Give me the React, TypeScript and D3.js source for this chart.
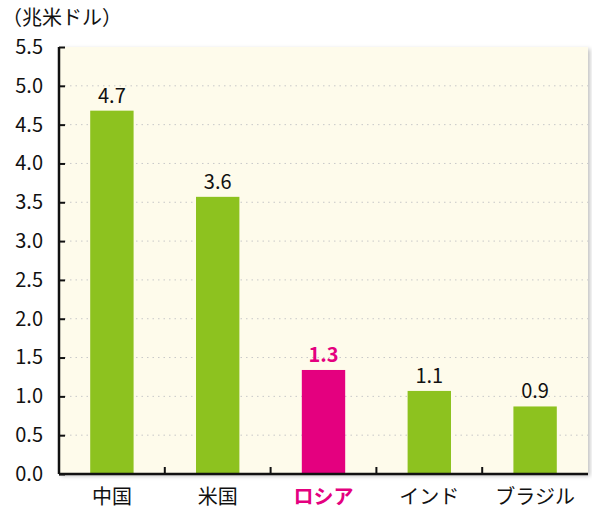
import { useEffect, useRef } from 'react'
import * as d3 from 'd3'

const countries = ['中国', '米国', 'ロシア', 'インド', 'ブラジル']
const values = [4.68, 3.57, 1.34, 1.07, 0.87]
const highlight = 'ロシア'
const yTicks = [0, 0.5, 1, 1.5, 2, 2.5, 3, 3.5, 4, 4.5, 5, 5.5]
const unitLabel = '（兆米ドル）'

const GREEN = '#8dc21f'
const PINK = '#e4007f'
const FONT = '"Noto Sans CJK JP", "Noto Sans", sans-serif'

export default function App() {
  const svgRef = useRef<SVGSVGElement>(null)

  useEffect(() => {
    if (!svgRef.current) return
    const svg = d3.select(svgRef.current)
    svg.selectAll('*').remove()

    const width = 592
    const height = 509
    const margin = { top: 47, right: 4, bottom: 35, left: 59 }
    const innerW = width - margin.left - margin.right
    const innerH = height - margin.top - margin.bottom

    const x = d3.scaleBand().domain(countries).range([0, innerW]).paddingInner(0.59).paddingOuter(0.295)
    const y = d3.scaleLinear().domain([0, 5.5]).range([innerH, 0])

    const defs = svg.append('defs')
    const filter = defs.append('filter').attr('id', 'shadow').attr('x', '-5%').attr('y', '-5%').attr('width', '115%').attr('height', '115%')
    filter.append('feDropShadow').attr('dx', 2).attr('dy', 2).attr('stdDeviation', 2).attr('flood-color', '#000').attr('flood-opacity', 0.25)

    const g = svg.append('g').attr('transform', `translate(${margin.left},${margin.top})`)

    // plot background
    g.append('rect')
      .attr('width', innerW)
      .attr('height', innerH)
      .attr('fill', '#fefbeb')
      .attr('filter', 'url(#shadow)')

    // dotted gridlines
    g.append('g')
      .selectAll('line')
      .data(yTicks.filter((t) => t > 0 && t < 5.5))
      .join('line')
      .attr('x1', 0)
      .attr('x2', innerW)
      .attr('y1', (d) => y(d))
      .attr('y2', (d) => y(d))
      .attr('stroke', '#c8c8c8')
      .attr('stroke-width', 1)
      .attr('stroke-dasharray', '1.5,4')

    // bars
    g.append('g')
      .selectAll('rect')
      .data(countries)
      .join('rect')
      .attr('x', (d) => x(d)!)
      .attr('y', (d, i) => y(values[i]))
      .attr('width', x.bandwidth())
      .attr('height', (d, i) => innerH - y(values[i]))
      .attr('fill', (d) => (d === highlight ? PINK : GREEN))

    // value labels
    g.append('g')
      .selectAll('text')
      .data(countries)
      .join('text')
      .attr('x', (d) => x(d)! + x.bandwidth() / 2)
      .attr('y', (d, i) => y(values[i]) - 8)
      .attr('text-anchor', 'middle')
      .attr('font-family', FONT)
      .attr('font-size', 20)
      .attr('font-weight', (d) => (d === highlight ? 'bold' : 'normal'))
      .attr('fill', (d) => (d === highlight ? PINK : '#111'))
      .text((d, i) => values[i].toFixed(1))

    // y axis
    const yAxis = g.append('g').call(
      d3.axisLeft(y).tickValues(yTicks).tickSize(-6).tickPadding(16).tickFormat((d) => (d as number).toFixed(1))
    )
    yAxis.select('.domain').attr('stroke', '#111').attr('stroke-width', 2.5).attr('d', `M0,0V${innerH}`)
    yAxis.selectAll('.tick line').attr('stroke', '#111').attr('stroke-width', 2)
    yAxis.selectAll('.tick text').attr('font-family', FONT).attr('font-size', 20).attr('fill', '#111')

    // x axis with ticks between categories
    const xAxis = g.append('g').attr('transform', `translate(0,${innerH})`)
    xAxis.append('line').attr('x1', 0).attr('x2', innerW).attr('stroke', '#111').attr('stroke-width', 2.5)
    const step = x.step()
    xAxis
      .selectAll('line.sep')
      .data(countries.slice(1))
      .join('line')
      .attr('class', 'sep')
      .attr('x1', (d) => x(d)! - (step - x.bandwidth()) / 2)
      .attr('x2', (d) => x(d)! - (step - x.bandwidth()) / 2)
      .attr('y1', 0)
      .attr('y2', -7)
      .attr('stroke', '#111')
      .attr('stroke-width', 2)
    xAxis
      .selectAll('text')
      .data(countries)
      .join('text')
      .attr('x', (d) => x(d)! + x.bandwidth() / 2)
      .attr('y', 30)
      .attr('text-anchor', 'middle')
      .attr('font-family', FONT)
      .attr('font-size', 20)
      .attr('font-weight', (d) => (d === highlight ? 'bold' : 'normal'))
      .attr('fill', (d) => (d === highlight ? PINK : '#111'))
      .text((d) => d)

    // unit label
    svg.append('text')
      .attr('x', 2)
      .attr('y', 25)
      .attr('font-family', FONT)
      .attr('font-size', 20)
      .attr('fill', '#111')
      .text(unitLabel)
  }, [])

  return (
    <div>
      <style>{'body{margin:0;background:#fff}'}</style>
      <svg ref={svgRef} width={592} height={509} style={{ display: 'block' }} />
    </div>
  )
}
